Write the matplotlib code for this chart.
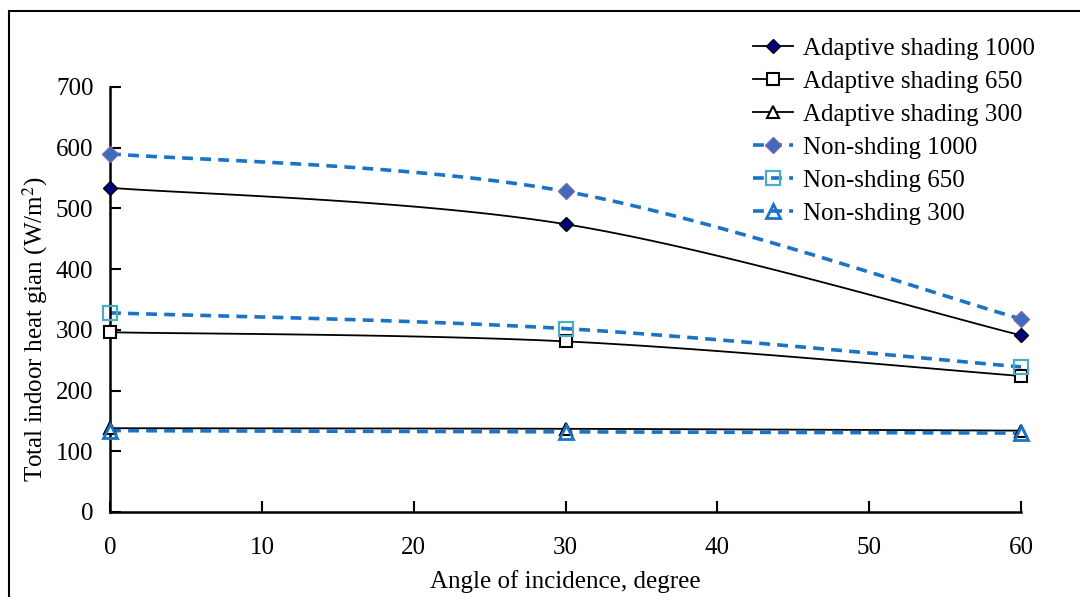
import numpy as np
import matplotlib.pyplot as plt
from matplotlib.lines import Line2D
from matplotlib.patches import Rectangle

plt.rcParams['font.family'] = ['Liberation Serif', 'DejaVu Serif']
plt.rcParams['mathtext.fontset'] = 'stix'

angles = [0, 30, 60]
adaptive_1000 = [534, 474, 291]
adaptive_650 = [296, 281, 224]
adaptive_300 = [138, 137, 134]
non_1000 = [590, 528, 318]
non_650 = [328, 302, 239]
non_300 = [134, 132, 130]

labels = ['Adaptive shading 1000', 'Adaptive shading 650', 'Adaptive shading 300',
          'Non-shding 1000', 'Non-shding 650', 'Non-shding 300']


def smooth(x, y, n=40):
    # Excel-style smoothed line: cubic Bezier through the points
    x = np.asarray(x, float)
    y = np.asarray(y, float)
    px, py = [], []
    for i in range(len(x) - 1):
        x0, y0 = (x[i - 1], y[i - 1]) if i > 0 else (x[i], y[i])
        x3, y3 = (x[i + 2], y[i + 2]) if i + 2 < len(x) else (x[i + 1], y[i + 1])
        c1 = (x[i] + (x[i + 1] - x0) / 6, y[i] + (y[i + 1] - y0) / 6)
        c2 = (x[i + 1] - (x3 - x[i]) / 6, y[i + 1] - (y3 - y[i]) / 6)
        t = np.linspace(0, 1, n)
        bx = (1 - t) ** 3 * x[i] + 3 * (1 - t) ** 2 * t * c1[0] + 3 * (1 - t) * t ** 2 * c2[0] + t ** 3 * x[i + 1]
        by = (1 - t) ** 3 * y[i] + 3 * (1 - t) ** 2 * t * c1[1] + 3 * (1 - t) * t ** 2 * c2[1] + t ** 3 * y[i + 1]
        px.extend(bx)
        py.extend(by)
    return px, py


fig = plt.figure(figsize=(10.8, 5.97), dpi=100)
ax = fig.add_axes([0.1019, 0.1424, 0.8435, 0.7119])

series = [
    (adaptive_1000, dict(color='black', lw=1.3, ls='-'), dict(marker='D', ms=7, mfc='#000080', mec='black', mew=1)),
    (adaptive_650, dict(color='black', lw=1.3, ls='-'), dict(marker='s', ms=9, mfc='white', mec='black', mew=1.5)),
    (adaptive_300, dict(color='black', lw=1.3, ls='-'), dict(marker='^', ms=9, mfc='white', mec='black', mew=1.5)),
    (non_1000, dict(color='#1a73c4', lw=2.6, ls=(0, (3, 2))), dict(marker='D', ms=8, mfc='#3a6cc0', mec='#8064a2', mew=1)),
    (non_650, dict(color='#1a73c4', lw=2.6, ls=(0, (3, 2))), dict(marker='s', ms=10, mfc='none', mec='#4bacc6', mew=1.6)),
    (non_300, dict(color='#1a73c4', lw=2.6, ls=(0, (3, 2))), dict(marker='^', ms=10, mfc='none', mec='#1a73c4', mew=2)),
]

handles = []
for vals, lst, mst in series:
    sx, sy = smooth(angles, vals)
    ax.plot(sx, sy, zorder=2, **lst)
    ax.plot(angles, vals, ls='none', zorder=3, clip_on=False, **mst)
    handles.append(Line2D([], [], **lst, **mst))

ax.set_xlim(0, 60)
ax.set_ylim(0, 700)
ax.set_xticks(range(0, 61, 10))
ax.set_yticks(range(0, 701, 100))
ax.spines['top'].set_visible(False)
ax.spines['right'].set_visible(False)
for s in ['left', 'bottom']:
    ax.spines[s].set_linewidth(1.8)
ax.tick_params(direction='in', length=8, width=1.5, labelsize=18, pad=12)
ax.tick_params(axis='x', pad=18)

ax.set_xlabel('Angle of incidence, degree', fontsize=18, labelpad=8)
ax.set_ylabel('Total indoor heat gian (W/m$^2$)', fontsize=18, labelpad=4)
ax.yaxis.label.set_y(0.43)

ax.legend(handles, labels, loc='upper left', bbox_to_anchor=(0.695, 1.14), frameon=False,
          fontsize=18, handlelength=1.6, handletextpad=0.4, labelspacing=0.42, borderaxespad=0)

fig.patches.append(Rectangle((9 / 1080, -0.1), 1.2, 1 - 11 / 597 + 0.1, transform=fig.transFigure,
                             fill=False, edgecolor='black', lw=1.5))

fig.savefig('out.png', dpi=100)
